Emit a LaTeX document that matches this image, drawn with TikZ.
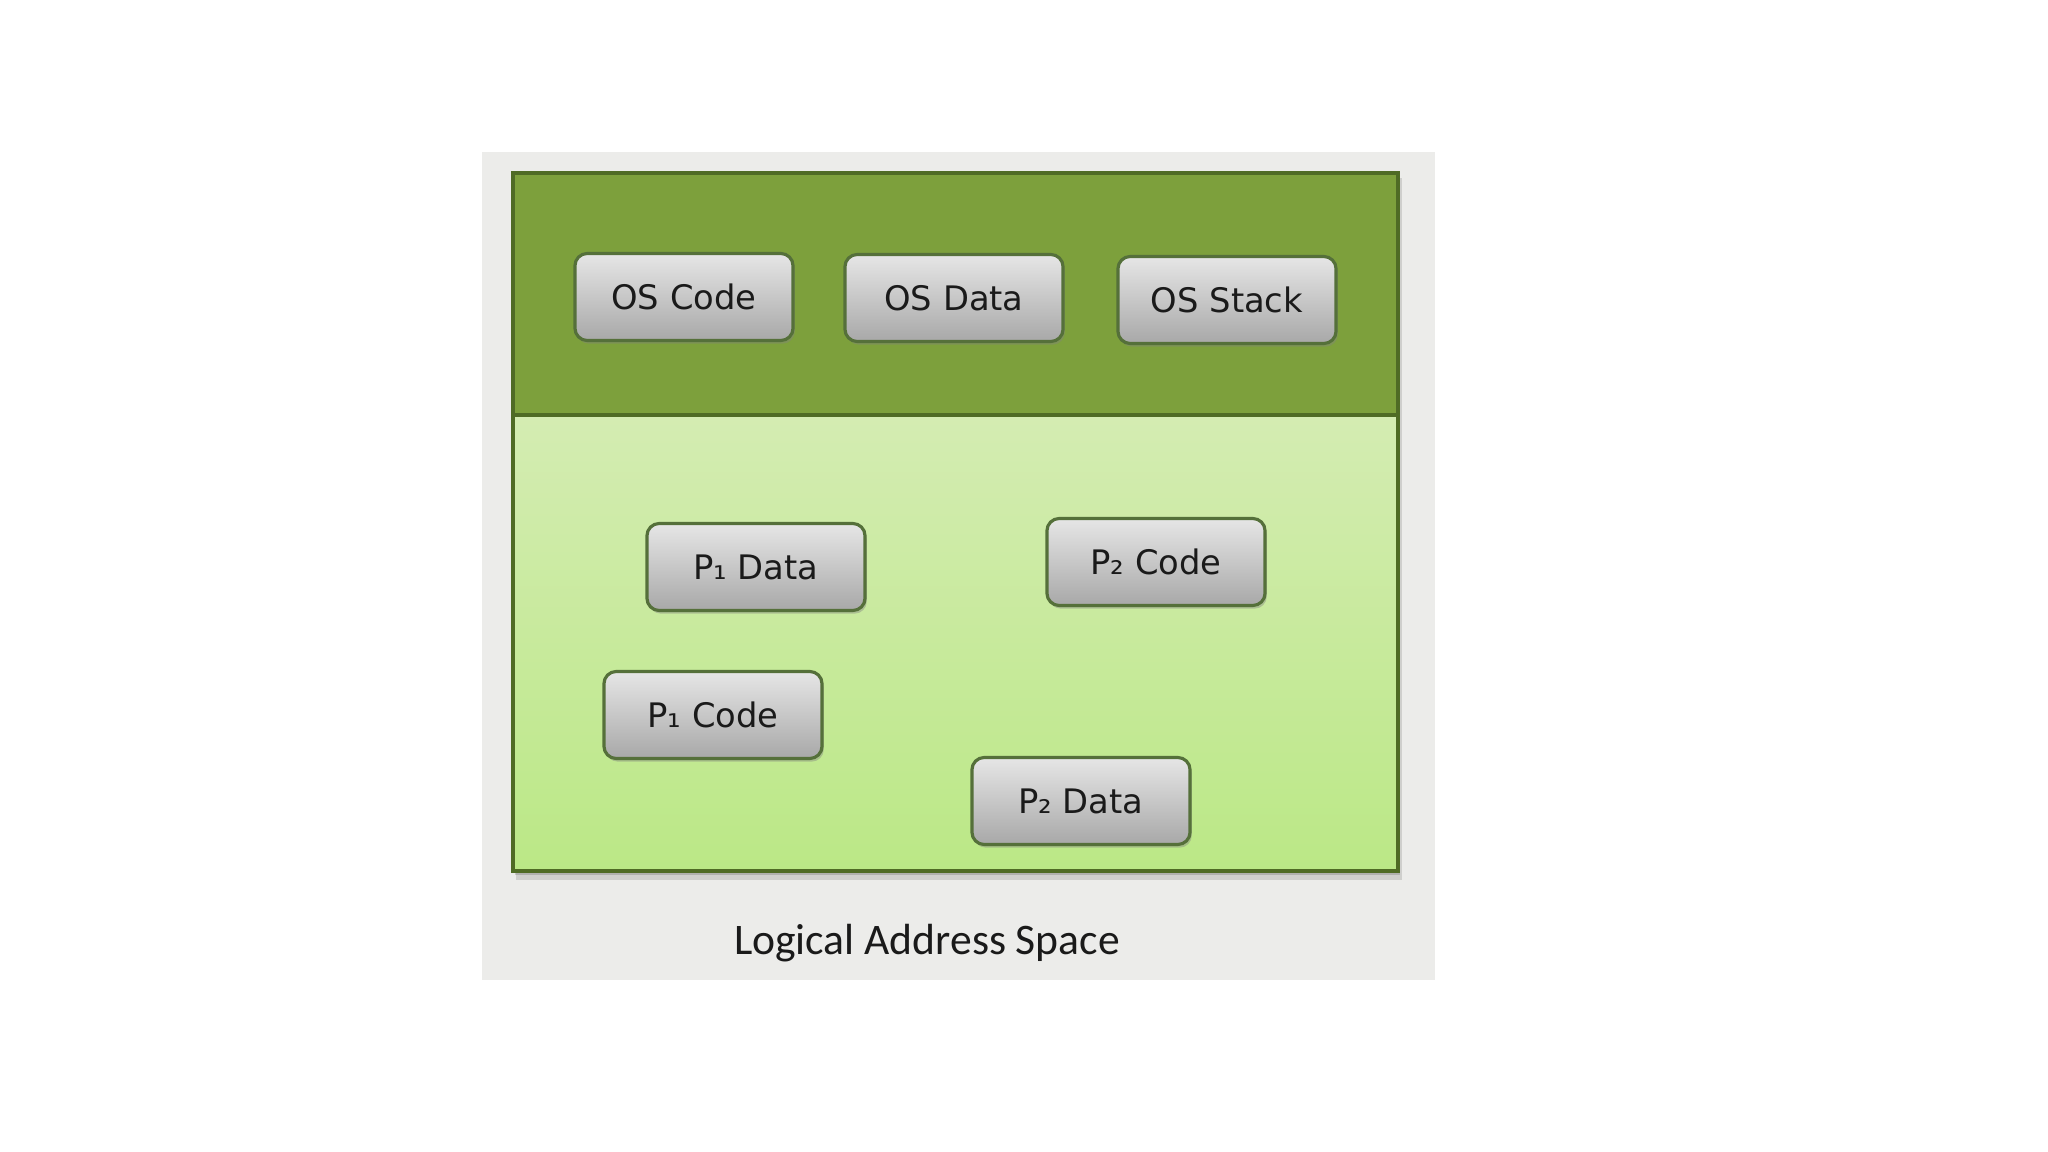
\documentclass[tikz,border=0pt]{standalone}
\usepackage{fontspec}
\setmainfont{DejaVu Sans}
\newfontfamily\capfont{Carlito}
\usetikzlibrary{shadows}
\definecolor{bgrey}{HTML}{ECECEA}
\definecolor{dgreen}{HTML}{7DA03C}
\definecolor{lgtop}{HTML}{D4ECB2}
\definecolor{lgbot}{HTML}{BBE886}
\definecolor{gline}{HTML}{4F6B25}
\definecolor{segtop}{HTML}{E6E6E6}
\definecolor{segbot}{HTML}{A8A8A8}
\definecolor{segline}{HTML}{55703A}
\definecolor{captext}{HTML}{1A1A1A}

\begin{document}
\begin{tikzpicture}[x=0.01cm, y=-0.01cm,
  seg/.style={draw=segline, line width=0.9pt, rounded corners=3.5pt,
    top color=segtop, bottom color=segbot, text=captext,
    minimum width=2.18cm, minimum height=0.87cm,
    font=\fontsize{9.6}{11}\selectfont,
    drop shadow={opacity=0.4, shadow xshift=0.5pt, shadow yshift=-0.9pt}}]

\useasboundingbox (0,0) rectangle (2048,1152);
\fill[bgrey] (482,152) rectangle (1435,980);
\fill[black, opacity=0.12] (516,178) rectangle (1402,880);
\fill[black, opacity=0.15] (515,176) rectangle (1400,875);

\shade[top color=lgtop, bottom color=lgbot] (513,415) rectangle (1398,871);
\fill[dgreen] (513,173) rectangle (1398,415);
\draw[gline, line width=1.1pt] (513,173) rectangle (1398,871);
\draw[gline, line width=1.1pt] (513,415) -- (1398,415);

\node[seg] (osc) at (684,297) {OS Code};
\node[seg] (osd) at (954,298) {OS Data};
\node[seg] (oss) at (1227,300) {OS Stack};
\node[seg] (p1d) at (756,567) {P₁ Data};
\node[seg] (p2c) at (1156,562) {P₂ Code};
\node[seg] (p1c) at (713,715) {P₁ Code};
\node[seg] (p2d) at (1081,801) {P₂ Data};

\node[font=\capfont\fontsize{12.4}{14}\selectfont, text=captext] (cap) at (927,943) {Logical Address Space};

\end{tikzpicture}
\end{document}
